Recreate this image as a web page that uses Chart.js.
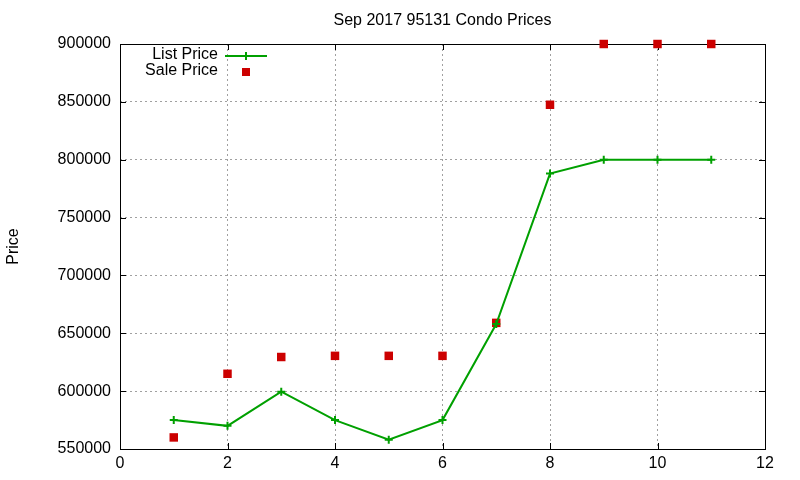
<!DOCTYPE html>
<html><head><meta charset="utf-8">
<script src="https://cdn.jsdelivr.net/npm/chart.js@4/dist/chart.umd.min.js"></script>
<style>html,body{margin:0;padding:0;background:#fff}#wrap{width:800px;height:480px}</style>
</head><body><div id="wrap"><canvas id="c" width="800" height="480"></canvas></div>
<script>
const months = [1,2,3,4,5,6,7,8,9,10,11];
const listPrice = [575000,570000,599500,575000,558000,575000,658000,788000,800000,800000,800000];
const salePrice = [560000,615000,629500,630500,630500,630500,659000,847500,900000,900000,900000];
const xTicks = [0,2,4,6,8,10,12];
const yTicks = [550000,600000,650000,700000,750000,800000,850000,900000];
const titleText = 'Sep 2017 95131 Condo Prices';
const yLabel = 'Price';
const FONT = '"Liberation Sans", Arial, sans-serif';

const frame = {
  id:'frame',
  beforeDatasetsDraw(chart){
    const {ctx, chartArea:a, scales:{x,y}} = chart;
    ctx.save();
    ctx.strokeStyle='#000'; ctx.lineWidth=1;
    ctx.beginPath();
    xTicks.forEach(v=>{const p=Math.round(x.getPixelForValue(v))+0.5;
      ctx.moveTo(p,a.bottom);ctx.lineTo(p,a.bottom-6);ctx.moveTo(p,a.top);ctx.lineTo(p,a.top+6);});
    yTicks.forEach(v=>{const p=Math.round(y.getPixelForValue(v))+0.5;
      ctx.moveTo(a.left,p);ctx.lineTo(a.left+6,p);ctx.moveTo(a.right,p);ctx.lineTo(a.right-6,p);});
    ctx.stroke();
    ctx.strokeRect(Math.round(a.left)+0.5,Math.round(a.top)+0.5,Math.round(a.right-a.left),Math.round(a.bottom-a.top));
    ctx.restore();
  },
  afterDraw(chart){
    const {ctx, chartArea:a} = chart;
    ctx.save();
    ctx.fillStyle='#000';
    ctx.font='16px '+FONT; ctx.textAlign='center'; ctx.textBaseline='middle';
    ctx.fillText(titleText,(a.left+a.right)/2,21);
    ctx.save(); ctx.translate(14,(a.top+a.bottom)/2); ctx.rotate(-Math.PI/2);
    ctx.fillText(yLabel,0,0); ctx.restore();
    // legend
    ctx.textAlign='right';
    ctx.fillText(chart.data.datasets[0].label,218,55);
    ctx.fillText(chart.data.datasets[1].label,218,71);
    ctx.strokeStyle='#00a000'; ctx.lineWidth=2;
    ctx.beginPath(); ctx.moveTo(225,56); ctx.lineTo(267,56);
    ctx.moveTo(246,52); ctx.lineTo(246,60); ctx.stroke();
    ctx.fillStyle='#cc0000'; ctx.fillRect(242,68,8,8);
    ctx.restore();
  }
};

new Chart(document.getElementById('c'),{
  type:'line',
  data:{datasets:[
    {label:'List Price',data:months.map((m,i)=>({x:m,y:listPrice[i]})),borderColor:'#00a000',backgroundColor:'#00a000',
     borderWidth:2,pointStyle:'cross',pointRadius:4,pointBorderWidth:2,pointBorderColor:'#00a000',tension:0,clip:false},
    {label:'Sale Price',data:months.map((m,i)=>({x:m,y:salePrice[i]})),showLine:false,borderColor:'#cc0000',backgroundColor:'#cc0000',
     pointStyle:'rect',pointRadius:6,pointBorderWidth:0,clip:false}
  ]},
  options:{
    responsive:false,animation:false,
    layout:{padding:{top:44,right:35,left:0,bottom:0}},
    plugins:{legend:{display:false},title:{display:false},tooltip:{enabled:false}},
    scales:{
      x:{type:'linear',min:0,max:12,
        afterBuildTicks(s){s.ticks=xTicks.map(v=>({value:v}));},
        afterFit(s){s.height=31;},
        border:{display:false,dash:[2,3]},
        grid:{color:'#a0a0a0',lineWidth:1,drawTicks:false},
        ticks:{padding:5,color:'#000',font:{family:FONT,size:16},maxRotation:0}},
      y:{type:'linear',min:550000,max:900000,
        afterBuildTicks(s){s.ticks=yTicks.map(v=>({value:v}));},
        afterFit(s){s.width=120;},
        border:{display:false,dash:[2,3]},
        grid:{color:'#a0a0a0',lineWidth:1,drawTicks:false},
        ticks:{padding:9,color:'#000',font:{family:FONT,size:16},callback:v=>String(v)}}
    }
  },
  plugins:[frame]
});
</script></body></html>
